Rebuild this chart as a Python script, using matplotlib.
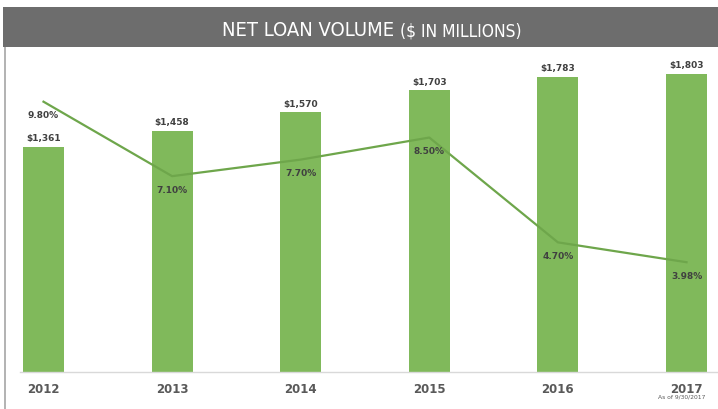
import matplotlib
matplotlib.use("Agg")
import matplotlib.pyplot as plt
from matplotlib.patches import Rectangle
from matplotlib.lines import Line2D
from matplotlib import font_manager as fm

years = ["2012", "2013", "2014", "2015", "2016", "2017"]
loan_volume = [1361, 1458, 1570, 1703, 1783, 1803]
growth_pct = [9.80, 7.10, 7.70, 8.50, 4.70, 3.98]
bar_labels = ["$1,361", "$1,458", "$1,570", "$1,703", "$1,783", "$1,803"]
pct_labels = ["9.80%", "7.10%", "7.70%", "8.50%", "4.70%", "3.98%"]
title_main = "NET LOAN VOLUME"
title_sub = "($ IN MILLIONS)"
note = "As of 9/30/2017"

W, H = 718, 410
fig = plt.figure(figsize=(W / 100, H / 100), dpi=100)

left_px, right_px, top_px, bot_px = 20, 718, 42, 373
ax = fig.add_axes([left_px / W, (H - bot_px) / H, (right_px - left_px) / W, (bot_px - top_px) / H])
ax2 = ax.twinx()

x = list(range(len(years)))
spacing = 128.6
x0 = 43.5
ax.set_xlim((left_px - x0) / spacing, (right_px - x0) / spacing)
ax.set_ylim(0, 2000)
ax2.set_ylim(0, 12)

bar_color = "#80b95b"
line_color = "#6ea64b"
txt_color = "#404040"

ax.bar(x, loan_volume, width=41 / spacing, color=bar_color, zorder=2)
ax2.plot(x, growth_pct, color=line_color, lw=1.6, zorder=3)

for xi, v, lab in zip(x, loan_volume, bar_labels):
    ax.annotate(lab, (xi, v), xytext=(0, 9), textcoords="offset pixels",
                ha="center", va="center", fontsize=6.5, fontweight="bold", color=txt_color)
for xi, v, lab in zip(x, growth_pct, pct_labels):
    ax2.annotate(lab, (xi, v), xytext=(0, -13), textcoords="offset pixels",
                 ha="center", va="center", fontsize=6.5, fontweight="bold", color=txt_color, zorder=4)

for a in (ax, ax2):
    for s in a.spines.values():
        s.set_visible(False)
    a.set_yticks([])
ax.spines["bottom"].set_visible(True)
ax.spines["bottom"].set_color("#d9d9d9")
ax.spines["bottom"].set_linewidth(1.0)
ax.set_xticks(x)
ax.set_xticklabels(years, fontsize=8.5, fontweight="bold", color="#595959")
ax.tick_params(axis="x", length=0, pad=7)

fig.text(682 / W, (H - 395) / H, note, ha="center", va="top", fontsize=4.3, color="#595959")

# title bar
fig.patches.append(Rectangle((3 / W, (H - 48) / H), (W - 3) / W, 40 / H, transform=fig.transFigure,
                             facecolor="#6d6d6d", edgecolor="none", zorder=5))
avail = {f.name for f in fm.fontManager.ttflist}
if "Liberation Sans Narrow" in avail:
    tfam, tstretch = "Liberation Sans Narrow", "normal"
else:
    tfam, tstretch = "DejaVu Sans", "condensed"
t1 = fig.text(222 / W, (H - 31) / H, title_main + " ", ha="left", va="center", color="white",
              fontsize=14.5, family=tfam, fontstretch=tstretch, zorder=6)
fig.canvas.draw()
bb = t1.get_window_extent()
fig.text(bb.x1 / W, (H - 31.5) / H, title_sub, ha="left", va="center", color="white",
         fontsize=12.5, family=tfam, fontstretch=tstretch, zorder=6)

fig.add_artist(Line2D([5 / W, 5 / W], [0, (H - 48) / H], transform=fig.transFigure,
                      color="#a6a6a6", lw=1.2))

fig.savefig("out.png", dpi=100)
